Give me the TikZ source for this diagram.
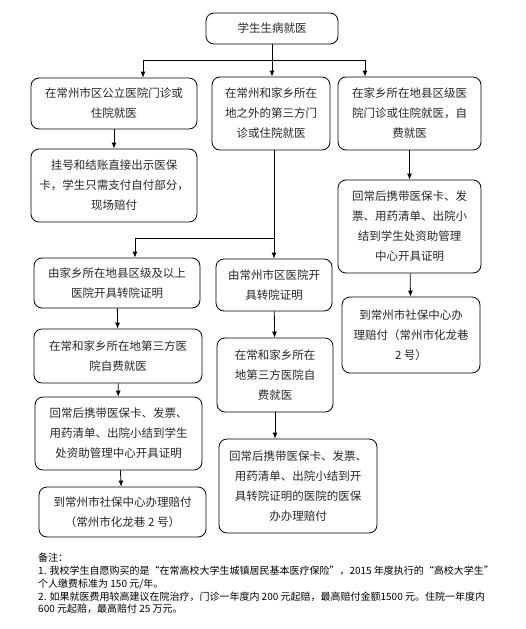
\documentclass[tikz,border=0pt]{standalone}
\usepackage{fontspec}
\setmainfont{Noto Sans CJK SC}
\usetikzlibrary{arrows.meta}
\begin{document}
\begin{tikzpicture}[x=1pt,y=-1pt,
  box/.style={draw,rounded corners=8pt,line width=0.8pt,align=center,inner sep=1pt,
    font=\fontsize{11.5}{20}\selectfont,text=black!85},
  arr/.style={-{Latex[length=6pt,width=5pt]},line width=0.8pt}]
  \useasboundingbox (0,0) rectangle (526,629);
  \node[box,minimum width=132pt,minimum height=31pt] (top) at (272,28.5) {学生生病就医};
  \node[box,minimum width=166pt,minimum height=51pt] (a1) at (114,103.5) {在常州市区公立医院门诊或\\住院就医};
  \node[box,minimum width=118pt,minimum height=73pt] (b1) at (271,113.5) {在常州和家乡所在\\地之外的第三方门\\诊或住院就医};
  \node[box,minimum width=143pt,minimum height=73pt] (c1) at (409.5,113.5) {在家乡所在地县区级医\\院门诊或住院就医，自\\费就医};
  \node[box,minimum width=166pt,minimum height=73pt] (a2) at (114,185.5) {挂号和结账直接出示医保\\卡，学生只需支付自付部分，\\现场赔付};
  \node[box,minimum width=143pt,minimum height=93pt] (c2) at (409.5,226.5) {回常后携带医保卡、发\\票、用药清单、出院小\\结到学生处资助管理\\中心开具证明};
  \node[box,minimum width=138pt,minimum height=76pt] (c3) at (411,335) {到常州市社保中心办\\理赔付（常州市化龙巷\\2 号）};
  \node[box,minimum width=166pt,minimum height=50pt] (d1) at (117,283) {由家乡所在地县区级及以上\\医院开具转院证明};
  \node[box,minimum width=168pt,minimum height=54pt] (d2) at (118,356) {在常和家乡所在地第三方医\\院自费就医};
  \node[box,minimum width=167pt,minimum height=73pt] (d3) at (118.5,433.5) {回常后携带医保卡、发票、\\用药清单、出院小结到学生\\处资助管理中心开具证明};
  \node[box,minimum width=167pt,minimum height=50pt] (d4) at (122.5,512) {到常州市社保中心办理赔付\\（常州市化龙巷 2 号）};
  \node[box,minimum width=116pt,minimum height=52pt] (e1) at (274,285) {由常州市区医院开\\具转院证明};
  \node[box,minimum width=116pt,minimum height=74pt] (e2) at (275,375) {在常和家乡所在\\地第三方医院自\\费就医};
  \node[box,minimum width=158pt,minimum height=94pt] (e3) at (298,486) {回常后携带医保卡、发票、\\用药清单、出院小结到开\\具转院证明的医院的医保\\办办理赔付};
  \coordinate (j1) at (272,60);
  \coordinate (ja) at (143,60);
  \coordinate (jc) at (365,60);
  \coordinate (j2) at (274,238);
  \coordinate (jd) at (135,238);
  \draw[line width=0.8pt] (top.south) -- (j1);
  \draw[line width=0.8pt] (ja) -- (jc);
  \draw[arr] (ja) -- (ja |- a1.north);
  \draw[arr] (j1) -- (j1 |- b1.north);
  \draw[arr] (jc) -- (jc |- c1.north);
  \draw[arr] (a1) -- (a2);
  \draw[arr] (c1) -- (c2);
  \draw[arr] (c2) -- (c3);
  \draw[arr] (b1.south -| e1.north) -- (e1.north);
  \draw[arr] (j2) -| (jd |- d1.north);
  \draw[arr] (d1) -- (d2);
  \draw[arr] (d2) -- (d3);
  \draw[arr] (d3) -- (d4);
  \draw[arr] (e1) -- (e2);
  \draw[arr] (e2.south) -- (e2.south |- e3.north);
  \node[anchor=north west,align=left,inner sep=0pt,font=\fontsize{10}{12.8}\selectfont] (note) at (38,553)
    {备注：\\
     1. 我校学生自愿购买的是“在常高校大学生城镇居民基本医疗保险”，2015 年度执行的“高校大学生”\\
     个人缴费标准为 150 元/年。\\
     2. 如果就医费用较高建议在院治疗，门诊一年度内 200 元起赔，最高赔付金额1500 元。住院一年度内\\
     600 元起赔，最高赔付 25 万元。};
\end{tikzpicture}
\end{document}
